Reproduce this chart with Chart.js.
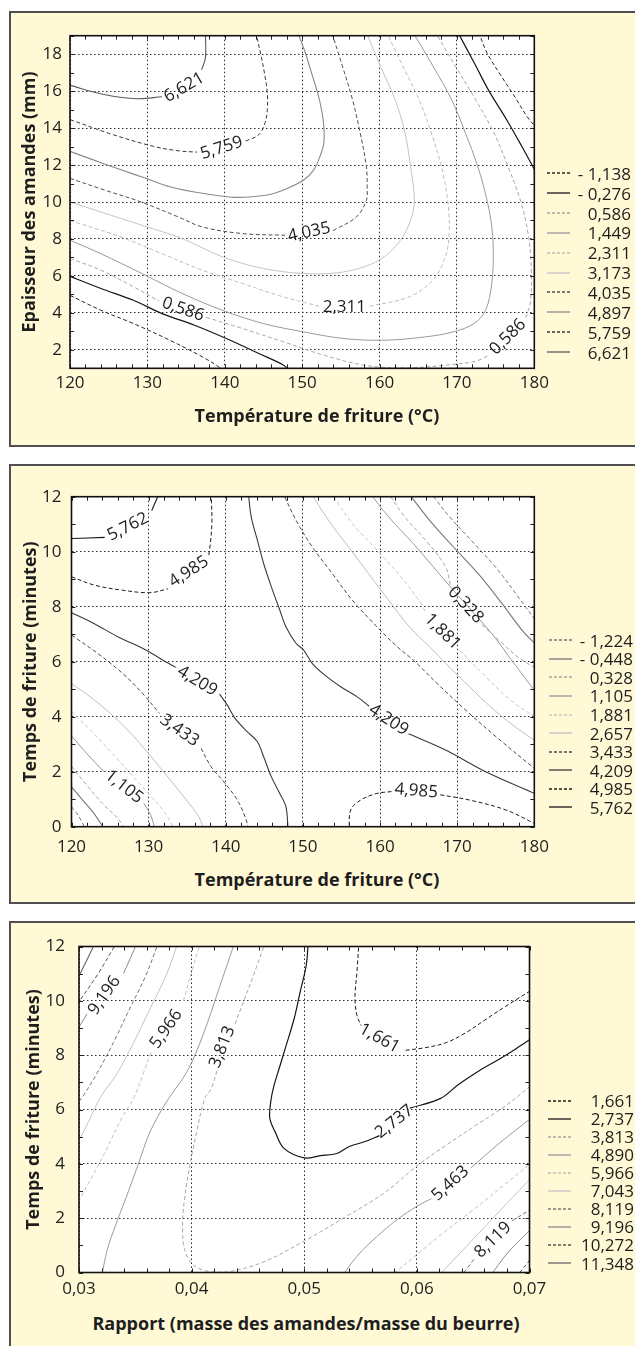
<!DOCTYPE html>
<html>
<head>
<meta charset="utf-8">
<script src="https://cdn.jsdelivr.net/npm/chart.js@4.4.0/dist/chart.umd.min.js"></script>
<style>
  html, body { margin: 0; padding: 0; }
  body { width: 635px; height: 1346px; overflow: hidden; position: relative; background: #fff;
         font-family: 'Open Sans', sans-serif; color: #1e1e1e; }
  .panel { position: absolute; left: 9px; width: 660px; background: #fff9d6; border: 2px solid #4f4f4f; box-sizing: border-box; }
  canvas { position: absolute; left: 0; }
  .xtitle { position: absolute; font-weight: 700; font-size: 18px; line-height: 22px; white-space: nowrap; transform: translateX(-50%); }
  .lrow { position: absolute; height: 21px; font-size: 17px; line-height: 21px; }
  .lrow svg { position: absolute; left: 0; top: 8.5px; }
  .lrow span { position: absolute; right: 0; top: 0; white-space: nowrap; }
</style>
</head>
<body>
<div class="panel" style="top:11px; height:436px;"></div>
<div class="panel" style="top:464px; height:440px;"></div>
<div class="panel" style="top:921px; height:440px;"></div>

<canvas id="c1" width="600" height="392" style="top:14px"></canvas>
<canvas id="c2" width="600" height="395" style="top:470px"></canvas>
<canvas id="c3" width="600" height="385" style="top:925px"></canvas>

<div class="xtitle" style="left:317px; top:404px;">Température de friture (°C)</div>
<div class="xtitle" style="left:317px; top:868px;">Température de friture (°C)</div>
<div class="xtitle" style="left:306px; top:1312px;">Rapport (masse des amandes/masse du beurre)</div>

<script>
// ---------- panel 1 : épaisseur des amandes / température ----------
const p1Levels = ['- 1,138', '- 0,276', '0,586', '1,449', '2,311', '3,173', '4,035', '4,897', '5,759', '6,621'];
const p1XTicks = [120, 130, 140, 150, 160, 170, 180];
const p1YTicks = [2, 4, 6, 8, 10, 12, 14, 16, 18];
// [level index, segment, segment ...] ; a line is cut where its label sits
const p1Lines = [
  [9, [[120,16.31],[124.4,15.82],[128.7,15.59],[131.9,15.7]], [[137.0,17.15],[137.5,17.8],[137.5,19.2]]],
  [8, [[120,14.46],[125.6,13.64],[130.8,13.01],[134.0,12.77],[136.4,12.7]],
      [[142.7,13.3],[144.4,13.64],[145.2,14.28],[145.5,15.0],[145.5,15.9],[145.2,16.8],[144.7,17.9],[144.0,19.2]]],
  [7, [[120,12.74],[123,12.28],[126.6,11.74],[129.8,11.28],[132.9,10.83],[137.1,10.47],[141.3,10.25],[145.5,10.38],[147.6,10.65],
       [150.2,11.19],[151.5,11.74],[152.3,12.46],[152.8,13.19],[152.8,14.1],[152.5,15.0],[152.0,15.91],[151.2,17.0],[150.4,18.09],[149.4,19.2]]],
  [6, [[120,11.28],[124.5,10.64],[129.2,10.0],[134.0,9.19],[137.1,8.65],[142.3,8.29],[147.8,8.2]],
      [[154.0,8.45],[157.0,9.19],[158.3,10.09],[158.4,10.83],[158.3,11.92],[157.5,13.73],[156.5,15.55],[155.2,17.36],[153.8,19.2]]],
  [5, [[120,10.0],[124.0,9.46],[129.3,8.74],[134.5,8.02],[139.7,7.03],[145.0,6.40],[150.2,6.13],[154.4,6.16],[158.0,6.49],[160.6,7.03],
       [162.7,7.93],[164.0,9.0],[164.5,10.1],[164.0,11.92],[163.3,13.73],[162.0,15.55],[160.1,17.36],[158.3,19.2]]],
  [4, [[120,9.0],[126.6,8.1],[131.9,7.2],[137.1,6.31],[142.3,5.59],[147.6,4.86],[152.2,4.36]],
      [[158.7,4.36],[163.8,4.86],[166.9,5.77],[168.5,7.03],[169.0,8.29],[168.8,10.1],[168.0,11.92],[166.7,13.73],[165.1,15.55],[163.0,17.36],[160.9,19.2]]],
  [3, [[120,7.93],[124.0,7.2],[129.3,6.13],[134.5,5.05],[139.7,4.14],[145.0,3.42],[150.2,2.97],[155.4,2.61],[160.6,2.52],[165.9,2.70],
       [169.5,2.97],[172.2,3.42],[173.7,4.14],[174.5,5.59],[174.7,7.39],[174.4,9.0],[173.6,10.6],[172.7,11.92],[171.1,13.73],[169.3,15.55],[166.9,17.36],[164.3,19.2]]],
  [2, [[120,6.94],[124.0,6.31],[128.2,5.41],[131.5,4.64]],
      [[137.6,3.76],[142.3,3.15],[147.6,2.43],[152.8,1.71],[158.0,1.17],[163.3,1.02],[168.5,1.17],[172.4,1.38],[174.2,1.72]],
      [[178.9,3.75],[179.5,4.6],[179.6,6.49],[179.2,8.29],[178.2,10.1],[176.6,11.92],[174.8,13.73],[172.4,15.55],[169.8,17.36],[167.2,19.2]]],
  [1, [[120,5.98],[124.0,5.32],[128.2,4.68],[131.9,3.96],[136.1,3.33],[140.2,2.61],[144.4,1.80],[147.6,1.17],[148.6,0.8]],
      [[170.1,19.2],[172.4,17.4],[174.1,16.04],[176.5,14.4],[178.4,13.0],[180.3,11.55]]],
  [0, [[120,4.95],[124.0,4.14],[128.2,3.42],[132.9,2.52],[137.1,1.62],[139.2,1.08],[139.9,0.8]],
      [[172.8,19.2],[173.9,18.06],[175.8,16.77],[177.5,15.68],[179.1,14.6],[180.3,14.0]]]
];
const p1Labels = [
  ['6,621', 134.75, 16.2, -30], ['5,759', 139.6, 12.92, -18], ['4,035', 150.9, 8.36, -12],
  ['2,311', 155.45, 4.3, 0], ['0,586', 134.6, 4.18, 19], ['0,586', 176.6, 2.7, -45]
];

// ---------- panel 2 : temps de friture / température ----------
const p2Levels = ['- 1,224', '- 0,448', '0,328', '1,105', '1,881', '2,657', '3,433', '4,209', '4,985', '5,762'];
const p2XTicks = [120, 130, 140, 150, 160, 170, 180];
const p2YTicks = [0, 2, 4, 6, 8, 10, 12];
const p2Lines = [
  [9, [[120,10.48],[124.3,10.52]], [[130.4,11.5],[131.5,12.2]]],
  [8, [[120,9.09],[122.9,8.79],[126.6,8.6],[130.2,8.51],[132.5,8.65]],
      [[137.8,9.88],[138.0,10.3],[138.2,11.03],[138.1,12.2]],
      [[156.0,-0.2],[156.2,0.61],[157.5,0.97],[159.6,1.21],[161.6,1.28]],
      [[167.8,1.16],[171.6,0.97],[176.3,0.61],[180.3,0.08]]],
  [7, [[120,7.78],[122.9,7.39],[126.0,6.91],[129.7,6.42],[131.8,6.06],[133.5,5.8]],
      [[139.2,4.82],[140.2,4.42],[141.2,3.94],[142.8,3.45],[144.1,3.09],[144.9,2.55],[145.9,1.82],[147.0,1.21],[147.8,0.73],[148.1,-0.2]],
      [[142.9,12.2],[143.3,11.27],[144.1,10.42],[144.9,9.58],[145.9,8.73],[147.0,7.88],[147.8,7.27],[149.1,6.67],[150.1,6.42],[151.2,5.94],
       [152.8,5.52],[154.9,5.09],[157.0,4.73],[158.6,4.38]],
      [[163.7,3.38],[168.5,2.79],[173.7,2.0],[180.3,1.18]]],
  [6, [[120,6.97],[123.4,6.3],[126.6,5.58],[129.2,4.85],[131.4,4.12]],
      [[136.8,2.85],[138.1,2.18],[139.9,1.58],[141.5,0.97],[142.5,0.36],[143.1,-0.2]],
      [[147.3,12.2],[149.1,11.15],[151.2,10.18],[153.8,9.21],[156.4,8.24],[159.6,7.27],[162.2,6.55],[164.3,6.06],[167.4,5.21],
       [171.1,4.24],[175.3,3.21],[180.3,2.05]]],
  [5, [[120,5.2],[122.4,4.73],[125.5,4.0],[128.1,3.27],[130.7,2.42],[132.8,1.7],[134.9,0.97],[136.5,0.36],[137.3,-0.2]],
      [[150.9,12.2],[153.3,11.15],[155.9,10.18],[158.5,9.21],[161.1,8.24],[163.8,7.27],[166.4,6.55],[168.5,5.94],[171.6,5.09],
       [174.8,4.24],[178.4,3.45],[180.3,3.1]]],
  [4, [[120,4.2],[122.5,3.5],[125,2.75],[127.6,1.95],[130,1.2],[132,0.55],[133.6,-0.2]],
      [[153.5,12.2],[156.4,11.03],[159.6,10.06],[162.7,9.09],[165.3,8.12],[165.9,7.8]],
      [[170.3,6.42],[173.7,5.45],[176.9,4.6],[180.3,3.95]]],
  [3, [[120,3.3],[122,2.65],[124.2,2.0]], [[129.4,0.85],[130.3,0.4],[130.9,-0.2]],
      [[158.5,12.2],[161.1,11.27],[164.3,10.3],[166.9,9.45],[169.5,8.6],[172.2,7.76],[174.8,6.91],[177.2,6.0],[180.3,4.85]]],
  [2, [[120,2.2],[122,1.5],[124,0.85],[126,0.3],[127.3,-0.2]],
      [[160.9,12.2],[163.2,11.27],[165.9,10.42],[168.5,9.45],[169.1,8.8]],
      [[173.2,7.35],[176.3,6.55],[178.2,6.1],[180.3,5.75]]],
  [1, [[120,1.45],[121.5,0.95],[123,0.45],[124.5,-0.2]],
      [[163.5,12.2],[166.4,11.15],[169.5,10.18],[172.7,9.21],[175.8,8.12],[178.4,7.15],[180.3,6.6]]],
  [0, [[120,0.73],[121,0.35],[122,-0.2]],
      [[166.4,12.2],[169.0,11.27],[172.2,10.3],[175.3,9.33],[177.9,8.36],[180.3,7.45]]]
];
const p2Labels = [
  ['5,762', 127.3, 10.9, -27], ['4,985', 135.2, 9.27, -33], ['4,209', 136.3, 5.3, 31], ['3,433', 134.0, 3.5, 35],
  ['1,105', 126.8, 1.45, 38], ['4,209', 161.1, 3.88, 33], ['4,985', 164.7, 1.3, 5], ['0,328', 171.1, 8.06, 47],
  ['1,881', 168.1, 7.09, 45]
];

// ---------- panel 3 : temps de friture / rapport amandes-beurre ----------
const p3Levels = ['1,661', '2,737', '3,813', '4,890', '5,966', '7,043', '8,119', '9,196', '10,272', '11,348'];
const p3XTicks = [0.03, 0.04, 0.05, 0.06, 0.07];
const p3XTickLabels = ['0,03', '0,04', '0,05', '0,06', '0,07'];
const p3YTicks = [0, 2, 4, 6, 8, 10, 12];
const p3Lines = [
  [0, [[0.05486,12.2],[0.05468,11.07],[0.0545,10.08],[0.05468,9.46],[0.05505,9.09]],
      [[0.0590,8.18],[0.0608,8.28],[0.0626,8.46],[0.0644,8.84],[0.0662,9.34],[0.0680,9.83],[0.0702,10.4]]],
  [1, [[0.05036,12.2],[0.05018,11.32],[0.04964,10.33],[0.0491,9.34],[0.04838,8.34],[0.04784,7.6],[0.0473,6.86],[0.04705,6.36],
       [0.04694,5.68],[0.04741,5.18],[0.0482,4.57],[0.05,4.22],[0.05144,4.3],[0.05288,4.38],[0.05396,4.63],[0.0554,4.82],[0.05667,5.04]],
      [[0.05937,6.05],[0.06207,6.4],[0.06369,6.92],[0.0655,7.42],[0.0673,7.85],[0.06874,8.22],[0.0702,8.62]]],
  [2, [[0.04658,12.2],[0.0455,10.95],[0.0446,9.96],[0.0438,9.09]],
      [[0.04225,7.42],[0.04171,6.74],[0.04117,6.42],[0.04045,5.18],[0.03984,3.95],[0.03937,2.71],[0.03919,1.73],[0.03937,0.85],
       [0.04009,0.30],[0.04135,0.05],[0.04315,0.02],[0.0464,0.39],[0.05,1.16],[0.0536,2.03],[0.05721,2.96],[0.06009,3.95],
       [0.06261,4.69],[0.0655,5.49],[0.06802,6.18],[0.0702,6.9]]],
  [3, [[0.04387,12.2],[0.04243,10.45],[0.04099,8.72],[0.0396,7.4],[0.0378,6.3],[0.03631,5.18],[0.03523,3.95],[0.03414,2.71],
       [0.03324,1.73],[0.03252,0.85],[0.03198,-0.2]],
      [[0.05324,-0.2],[0.05468,0.6],[0.05649,1.34],[0.05829,1.96],[0.06009,2.46],[0.0613,2.72]],
      [[0.0648,3.85],[0.0673,4.75],[0.0702,5.7]]],
  [4, [[0.04081,12.2],[0.04009,11.19],[0.0392,9.9]],
      [[0.0364,8.1],[0.03595,7.6],[0.03486,6.42],[0.03378,5.68],[0.03234,4.45],[0.0309,3.33],[0.0298,2.5]],
      [[0.0575,-0.2],[0.0619,1.31],[0.0652,2.37],[0.06831,3.41],[0.0702,4.05]]],
  [5, [[0.03883,12.2],[0.03775,10.95],[0.03631,9.71],[0.03486,8.47],[0.03342,7.35],[0.0319,6.45],[0.0309,5.6],[0.0298,4.7]],
      [[0.06175,-0.2],[0.06787,2.49],[0.0702,3.5]]],
  [6, [[0.0371,12.2],[0.03595,10.95],[0.0345,9.71],[0.03306,8.47],[0.03162,7.35],[0.03036,6.49],[0.0298,6.2]],
      [[0.0638,-0.2],[0.0651,0.5]], [[0.06845,1.9],[0.0702,2.35]]],
  [7, [[0.03523,12.2],[0.03396,11.01]], [[0.03072,9.52],[0.0298,8.9]],
      [[0.06638,-0.2],[0.06816,0.77],[0.0702,1.62]]],
  [8, [[0.03342,12.2],[0.0317,11.0],[0.0298,9.85]], [[0.06876,-0.2],[0.0702,0.55]]],
  [9, [[0.03151,12.2],[0.0307,11.5],[0.0298,10.75]]]
];
const p3Labels = [
  ['9,196', 0.03225, 10.2, -55], ['5,966', 0.03775, 8.96, -55], ['3,813', 0.04272, 8.3, -68], ['1,661', 0.05667, 8.62, 29],
  ['2,737', 0.0580, 5.55, -38], ['5,463', 0.06297, 3.28, -42], ['8,119', 0.06676, 1.2, -44]
];

// line look for each level: [colour, dashed, width]
const p1Styles = [['#2a2a2a',1,1], ['#151515',0,1.2], ['#a8a8a8',1,1], ['#9a9a9a',0,1], ['#bdbdbd',1,1],
                  ['#c4c4c4',0,1], ['#505050',1,1], ['#8a8a8a',0,1.1], ['#3a3a3a',1,1], ['#5a5a5a',0,1.1]];
const p2Styles = [['#777',1,1], ['#777',0,1.1], ['#a5a5a5',1,1], ['#9a9a9a',0,1], ['#c8c8c8',1,1],
                  ['#bfbfbf',0,1], ['#4a4a4a',1,1], ['#3a3a3a',0,1.1], ['#1e1e1e',1,1], ['#151515',0,1.1]];
const p3Styles = [['#1e1e1e',1,1], ['#151515',0,1.2], ['#a8a8a8',1,1], ['#9a9a9a',0,1], ['#c0c0c0',1,1],
                  ['#c4c4c4',0,1], ['#777',1,1], ['#8a8a8a',0,1], ['#555',1,1], ['#666',0,1.1]];

Chart.defaults.font.family = "'Open Sans', sans-serif";
Chart.defaults.color = '#1e1e1e';

// white plot, contour labels, small inner ticks and the frame
function framePlugin(o) {
  return {
    id: 'frame',
    beforeDraw(chart) {
      const {ctx, chartArea: a} = chart;
      ctx.save();
      ctx.fillStyle = '#fff';
      ctx.fillRect(a.left, a.top, a.right - a.left, a.bottom - a.top);
      ctx.restore();
    },
    afterDatasetsDraw(chart) {
      const {ctx, chartArea: a} = chart;
      const xs = chart.scales.x, ys = chart.scales.y;
      ctx.save();
      ctx.font = "17px 'Open Sans'";
      ctx.fillStyle = '#1e1e1e';
      ctx.textAlign = 'center';
      ctx.textBaseline = 'middle';
      o.labels.forEach(([t, vx, vy, ang]) => {
        ctx.save();
        ctx.translate(xs.getPixelForValue(vx), ys.getPixelForValue(vy));
        ctx.rotate(ang * Math.PI / 180);
        ctx.fillText(t, 0, 0);
        ctx.restore();
      });

      ctx.strokeStyle = '#222';
      ctx.lineWidth = 1;
      ctx.beginPath();
      for (let k = 0; ; k++) {
        const v = xs.min + k * o.xMinor;
        if (v > xs.max + 1e-9) break;
        const px = Math.round(xs.getPixelForValue(v)) + 0.5;
        ctx.moveTo(px, a.top); ctx.lineTo(px, a.top + 4);
        ctx.moveTo(px, a.bottom); ctx.lineTo(px, a.bottom - 4);
      }
      for (let k = 0; ; k++) {
        const v = ys.min + k * o.yMinor;
        if (v > ys.max + 1e-9) break;
        const py = Math.round(ys.getPixelForValue(v)) + 0.5;
        ctx.moveTo(a.left, py); ctx.lineTo(a.left + 4, py);
        ctx.moveTo(a.right, py); ctx.lineTo(a.right - 4, py);
      }
      ctx.stroke();

      ctx.lineWidth = 1.6;
      ctx.strokeStyle = '#111';
      ctx.strokeRect(a.left, a.top, a.right - a.left, a.bottom - a.top);
      ctx.restore();
    }
  };
}

function contourChart(o) {
  const datasets = [];
  o.lines.forEach(entry => {
    const lvl = entry[0];
    const st = o.styles[lvl];
    entry.slice(1).forEach(seg => {
      datasets.push({
        label: o.levels[lvl],
        data: seg.map(p => ({x: p[0], y: p[1]})),
        showLine: true,
        pointRadius: 0,
        pointHoverRadius: 0,
        borderColor: st[0],
        borderWidth: st[2],
        borderDash: st[1] ? [4, 2.5] : [],
        tension: 0.35
      });
    });
  });

  return new Chart(document.getElementById(o.id), {
    type: 'scatter',
    data: {datasets},
    options: {
      responsive: false,
      animation: false,
      events: [],
      layout: {padding: {left: 0, top: o.padTop, right: o.padRight, bottom: 0}},
      plugins: {legend: {display: false}, tooltip: {enabled: false}},
      scales: {
        x: {
          type: 'linear', min: o.xMin, max: o.xMax, bounds: 'data',
          afterBuildTicks: s => { s.ticks = o.xTicks.map(v => ({value: v})); },
          ticks: {
            autoSkip: false, maxRotation: 0, padding: o.xPad,
            font: {size: 17}, color: '#1e1e1e',
            callback: (v, i) => o.xLabels ? o.xLabels[i] : String(v)
          },
          grid: {color: '#2a2a2a', lineWidth: 1, drawTicks: false},
          border: {display: false, dash: [1.5, 2.5]},
          afterFit: s => { s.height = o.xH; s.paddingLeft = 0; s.paddingRight = 0; }
        },
        y: {
          type: 'linear', min: o.yMin, max: o.yMax, bounds: 'data',
          afterBuildTicks: s => { s.ticks = o.yTicks.map(v => ({value: v})); },
          ticks: {autoSkip: false, padding: o.yPad, font: {size: 17}, color: '#1e1e1e'},
          grid: {color: '#2a2a2a', lineWidth: 1, drawTicks: false},
          border: {display: false, dash: [1.5, 2.5]},
          title: {
            display: true, text: o.yTitle, color: '#1e1e1e',
            font: {size: 18, weight: 'bold'}, padding: {top: o.yTitlePad, bottom: 0}
          },
          afterFit: s => { s.width = o.yW; s.paddingTop = 0; s.paddingBottom = 0; }
        }
      }
    },
    plugins: [framePlugin(o)]
  });
}

function buildLegend(levels, styles, top, step, left, right) {
  levels.forEach((txt, i) => {
    const st = styles[i];
    const row = document.createElement('div');
    row.className = 'lrow';
    row.style.left = left + 'px';
    row.style.width = (right - left) + 'px';
    row.style.top = (top + i * step - 10.5) + 'px';
    const dash = st[1] ? 'stroke-dasharray="3,2"' : '';
    row.innerHTML = '<svg width="23" height="4"><line x1="0" y1="2" x2="23" y2="2" stroke="' + st[0] +
      '" stroke-width="1.3" ' + dash + '/></svg><span>' + txt + '</span>';
    document.body.appendChild(row);
  });
}

contourChart({
  id: 'c1', lines: p1Lines, levels: p1Levels, styles: p1Styles, labels: p1Labels,
  xMin: 120, xMax: 180, yMin: 1, yMax: 19, xTicks: p1XTicks, yTicks: p1YTicks,
  xMinor: 2, yMinor: 1, padTop: 21.7, padRight: 65.7, xH: 37.7, yW: 70, xPad: 5, yPad: 8,
  yTitle: 'Epaisseur des amandes (mm)', yTitlePad: 19
});
contourChart({
  id: 'c2', lines: p2Lines, levels: p2Levels, styles: p2Styles, labels: p2Labels,
  xMin: 120, xMax: 180, yMin: 0, yMax: 12, xTicks: p2XTicks, yTicks: p2YTicks,
  xMinor: 2, yMinor: 1, padTop: 26.7, padRight: 65.7, xH: 38.3, yW: 71.5, xPad: 10.5, yPad: 10,
  yTitle: 'Temps de friture (minutes)', yTitlePad: 20
});
contourChart({
  id: 'c3', lines: p3Lines, levels: p3Levels, styles: p3Styles, labels: p3Labels,
  xMin: 0.03, xMax: 0.07, yMin: 0, yMax: 12, xTicks: p3XTicks, xLabels: p3XTickLabels, yTicks: p3YTicks,
  xMinor: 0.002, yMinor: 1, padTop: 21.5, padRight: 70.5, xH: 37.5, yW: 79, xPad: 6.8, yPad: 14,
  yTitle: 'Temps de friture (minutes)', yTitlePad: 23
});

buildLegend(p1Levels, p1Styles, 173.3, 19.86, 547, 631);
buildLegend(p2Levels, p2Styles, 640.3, 18.56, 548.5, 633);
buildLegend(p3Levels, p3Styles, 1100.5, 18.06, 547.7, 634);
</script>
</body>
</html>
